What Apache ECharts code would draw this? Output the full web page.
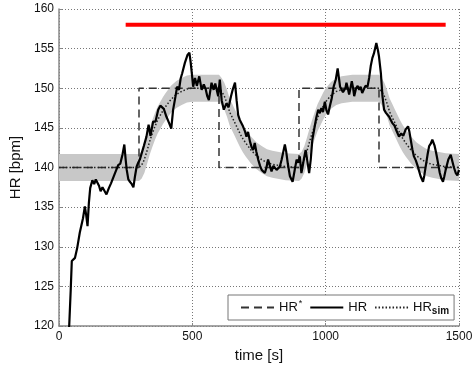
<!DOCTYPE html>
<html>
<head>
<meta charset="utf-8">
<script src="https://cdn.jsdelivr.net/npm/echarts@6/dist/echarts.min.js"></script>
<style>
  html, body { margin: 0; padding: 0; background: #fff; }
  #chart { width: 476px; height: 372px; }
</style>
</head>
<body>
<div id="chart"></div>
<script>
// Heart-rate tracking experiment: reference steps, measured HR, simulated HR with band.

// Reference heart rate HR* (step profile): value holds from each time until the next
const refTimes  = [0, 300, 600, 900, 1200, 1500];
const refValues = [140, 150, 140, 150, 140, 140];

// Simulated response HR_sim and its grey uncertainty band
const simTimes = [0, 300, 310, 320, 330, 340, 350, 360, 370, 380, 390, 400, 420, 440, 460, 480, 500,
  600, 610, 620, 630, 640, 650, 660, 670, 680, 690, 700, 720, 740, 760, 780, 800, 850,
  900, 910, 920, 930, 940, 950, 960, 970, 980, 990, 1000, 1020, 1040, 1060, 1080, 1100,
  1200, 1210, 1220, 1230, 1240, 1250, 1260, 1270, 1280, 1290, 1300, 1320, 1340, 1360, 1380, 1400, 1450, 1500];
const simValues = [140, 140, 140.3, 141.0, 142.1, 143.3, 144.3, 145.2, 146.0, 146.6, 147.2, 147.7, 148.6, 149.2, 149.6, 149.9, 150,
  150, 149.6, 149.0, 148.1, 147.0, 146.3, 145.6, 144.9, 144.2, 143.6, 143.1, 142.2, 141.5, 141.0, 140.6, 140.4, 140.1,
  140, 140.3, 141.0, 142.1, 143.3, 144.4, 145.4, 146.3, 147.0, 147.7, 148.3, 149.1, 149.6, 149.8, 149.9, 150,
  150, 149.6, 149.0, 148.1, 147.0, 146.3, 145.6, 144.9, 144.2, 143.6, 143.1, 142.2, 141.5, 141.0, 140.6, 140.4, 140.1, 140];
const bandLow = [138.3, 138.3, 138.6, 139.3, 140.4, 141.6, 142.6, 143.5, 144.3, 144.9, 145.5, 146.0, 146.9, 147.5, 147.9, 148.2, 148.3,
  148.3, 147.9, 147.3, 146.4, 145.3, 144.6, 143.9, 143.2, 142.5, 141.9, 141.4, 140.5, 139.8, 139.3, 138.9, 138.7, 138.4,
  138.3, 138.6, 139.3, 140.4, 141.6, 142.7, 143.7, 144.6, 145.3, 146.0, 146.6, 147.4, 147.9, 148.1, 148.2, 148.3,
  148.3, 147.9, 147.3, 146.4, 145.3, 144.6, 143.9, 143.2, 142.5, 141.9, 141.4, 140.5, 139.8, 139.3, 138.9, 138.7, 138.4, 138.3];
const bandHigh = [141.7, 141.7, 142.0, 142.7, 143.8, 145.0, 146.0, 146.9, 147.7, 148.3, 148.9, 149.4, 150.3, 150.9, 151.3, 151.6, 151.7,
  151.7, 151.3, 150.7, 149.8, 148.7, 148.0, 147.3, 146.6, 145.9, 145.3, 144.8, 143.9, 143.2, 142.7, 142.3, 142.1, 141.8,
  141.7, 142.0, 142.7, 143.8, 145.0, 146.1, 147.1, 148.0, 148.7, 149.4, 150.0, 150.8, 151.3, 151.5, 151.6, 151.7,
  151.7, 151.3, 150.7, 149.8, 148.7, 148.0, 147.3, 146.6, 145.9, 145.3, 144.8, 143.9, 143.2, 142.7, 142.3, 142.1, 141.8, 141.7];

// Measured heart rate HR: [time s, bpm]
const hrMeasured = [
  [37,119.0],[44,124.6],[48,128.2],[54,128.4],[60,128.6],[68,129.8],[78,131.8],[90,133.6],[97,135.1],[102,134.0],
  [107,132.6],[112,135.5],[117,137.4],[125,138.4],[132,137.9],[138,138.5],[145,138.4],[150,137.7],[156,137.0],[163,137.5],
  [170,137.3],[178,136.6],[187,137.4],[195,138.0],[202,137.8],[210,139.3],[216,139.4],[222,140.3],[230,140.5],[238,141.6],
  [245,142.9],[250,141.0],[254,139.7],[260,138.5],[266,138.2],[273,137.9],[279,137.5],[285,138.9],[291,140.1],[297,140.6],
  [303,141.0],[310,141.2],[318,142.7],[328,143.9],[336,145.4],[343,144.0],[353,145.8],[362,145.8],[372,147.3],[380,147.8],
  [386,147.7],[393,147.4],[403,146.4],[413,145.6],[421,144.9],[428,147.3],[437,149.0],[443,150.2],[450,149.8],[456,151.2],
  [462,151.9],[472,153.2],[482,154.2],[489,154.5],[494,153.2],[499,151.6],[503,150.2],[510,151.3],[517,150.3],[526,151.5],
  [535,149.8],[543,150.5],[550,149.9],[556,149.0],[562,148.5],[572,150.7],[580,149.8],[586,150.6],[591,150.4],[597,149.0],
  [603,151.1],[610,148.5],[618,147.3],[628,148.1],[636,147.6],[645,149.0],[652,149.9],[660,150.7],[666,148.5],[672,146.6],
  [678,146.0],[690,145.2],[697,144.6],[703,143.9],[709,144.5],[716,143.3],[722,142.6],[728,142.2],[734,143.1],[740,142.0],
  [747,141.0],[754,140.2],[760,139.7],[772,139.3],[778,140.0],[784,141.0],[790,140.3],[797,139.5],[804,140.2],[810,140.0],
  [816,139.7],[822,139.9],[828,140.1],[835,141.0],[840,141.8],[847,142.9],[852,142.0],[858,140.5],[866,138.9],[876,138.2],
  [884,139.7],[891,141.0],[897,140.6],[903,141.4],[909,139.3],[913,140.0],[918,141.0],[925,142.2],[931,140.9],[938,139.3],
  [944,141.0],[950,143.5],[959,145.2],[965,146.3],[972,147.3],[978,146.9],[984,147.5],[990,147.0],[997,148.3],[1003,147.2],
  [1009,146.7],[1016,147.8],[1022,148.6],[1030,150.2],[1038,151.1],[1045,152.5],[1049,152.6],[1054,150.2],[1060,150.0],[1065,149.5],
  [1069,149.4],[1074,150.0],[1078,150.7],[1083,150.0],[1088,149.2],[1093,150.0],[1098,150.9],[1103,150.0],[1107,149.0],[1114,150.0],
  [1120,150.3],[1126,149.8],[1131,150.2],[1137,149.4],[1142,149.6],[1149,150.3],[1157,150.2],[1163,151.3],[1169,152.8],[1175,153.8],
  [1181,154.4],[1190,155.7],[1196,154.8],[1200,154.0],[1207,151.9],[1213,149.0],[1219,147.3],[1226,146.9],[1232,146.7],[1238,146.4],
  [1244,146.0],[1250,145.6],[1258,145.3],[1266,144.6],[1275,143.9],[1283,144.3],[1291,144.0],[1300,144.8],[1309,145.2],[1314,144.5],
  [1319,143.5],[1325,142.3],[1331,141.4],[1338,140.9],[1344,140.3],[1350,139.6],[1356,138.9],[1365,138.2],[1370,139.0],[1375,140.1],
  [1382,141.6],[1388,142.7],[1394,143.0],[1400,143.5],[1408,142.8],[1414,141.9],[1419,141.0],[1428,139.3],[1434,138.6],[1440,138.2],
  [1445,138.9],[1450,139.7],[1460,141.0],[1469,141.6],[1475,140.8],[1481,140.0],[1488,139.3],[1494,139.0],[1500,139.7]
];

// Red bar marking the exercise period
const markTimes  = [250, 1450];
const markValues = [158, 158];

// Axis settings
const xRange = { min: 0, max: 1500, step: 500 };
const yRange = { min: 120, max: 160, step: 5 };

const FONT = '"Liberation Sans", Arial, Helvetica, sans-serif';
const zip = (a, b) => a.map((v, i) => [v, b[i]]);

const chart = echarts.init(document.getElementById('chart'), null, { renderer: 'canvas' });

// Band drawn as one polygon: upper edge left-to-right, lower edge back right-to-left
function renderBand(params, api) {
  if (params.dataIndex !== 0) return null;
  const pts = [];
  for (let i = 0; i < simTimes.length; i++) pts.push(api.coord([simTimes[i], bandHigh[i]]));
  for (let i = simTimes.length - 1; i >= 0; i--) pts.push(api.coord([simTimes[i], bandLow[i]]));
  return {
    type: 'polygon',
    shape: { points: pts },
    style: { fill: '#c8c8c8', stroke: null },
    silent: true
  };
}

const axisCommon = {
  nameLocation: 'middle',
  nameTextStyle: { fontSize: 15, color: '#111', fontFamily: FONT },
  axisLine: { show: true, onZero: false, lineStyle: { color: '#888', width: 1.5 } },
  axisTick: { show: true, inside: true, length: 3, lineStyle: { color: '#888' } },
  axisLabel: { fontSize: 12, color: '#111', margin: 5, fontFamily: FONT, formatter: v => String(v) },
  splitLine: { show: true, lineStyle: { color: '#777', width: 1, type: [1, 2] } }
};

chart.setOption({
  animation: false,
  textStyle: { fontFamily: FONT },
  grid: { left: 59, right: 17, top: 9, bottom: 46, containLabel: false },
  xAxis: Object.assign({}, axisCommon, {
    type: 'value', min: xRange.min, max: xRange.max, interval: xRange.step,
    name: 'time [s]', nameGap: 22
  }),
  yAxis: Object.assign({}, axisCommon, {
    type: 'value', min: yRange.min, max: yRange.max, interval: yRange.step,
    name: 'HR [bpm]', nameGap: 31, nameRotate: 90
  }),
  legend: {
    data: ['HR*', 'HR', 'HR_sim'],
    left: 228, top: 295,
    orient: 'horizontal',
    padding: [4, 5, 4, 12],
    itemGap: 7,
    itemWidth: 33, itemHeight: 14,
    backgroundColor: '#fff',
    borderColor: '#777', borderWidth: 1, borderRadius: 0,
    itemStyle: { opacity: 0 },
    formatter: function (name) {
      if (name === 'HR*') return '{m|HR}{sup|*}';
      if (name === 'HR_sim') return '{m|HR}{sub|sim}';
      return '{m|HR}';
    },
    textStyle: {
      fontFamily: FONT, color: '#111',
      rich: {
        m: { fontSize: 13, lineHeight: 17, fontFamily: FONT, color: '#111' },
        sup: { fontSize: 9, verticalAlign: 'top', lineHeight: 9, fontFamily: FONT, color: '#111', padding: [0, 0, 0, 1] },
        sub: { fontSize: 10, fontWeight: 'bold', verticalAlign: 'bottom', lineHeight: 10, fontFamily: FONT, color: '#111' }
      }
    }
  },
  series: [
    {
      name: 'band', type: 'custom', renderItem: renderBand, clip: true, silent: true,
      data: simTimes.map((t, i) => [t, bandLow[i], bandHigh[i]]),
      encode: { x: 0, y: [1, 2] }, z: 1
    },
    {
      name: 'HR*', type: 'line', step: 'end', symbol: 'none',
      data: zip(refTimes, refValues),
      lineStyle: { color: '#333', width: 1.5, type: [8, 5] }, z: 3
    },
    {
      name: 'HR_sim', type: 'line', symbol: 'none',
      data: zip(simTimes, simValues),
      lineStyle: { color: '#222', width: 1.5, type: [1.5, 2] }, z: 3
    },
    {
      name: 'HR', type: 'line', symbol: 'none',
      data: hrMeasured,
      lineStyle: { color: '#000', width: 2.2 }, z: 4
    },
    {
      name: 'target', type: 'line', symbol: 'none', silent: true,
      data: zip(markTimes, markValues),
      lineStyle: { color: '#ff0000', width: 4 }, z: 5
    }
  ]
});
</script>
</body>
</html>
